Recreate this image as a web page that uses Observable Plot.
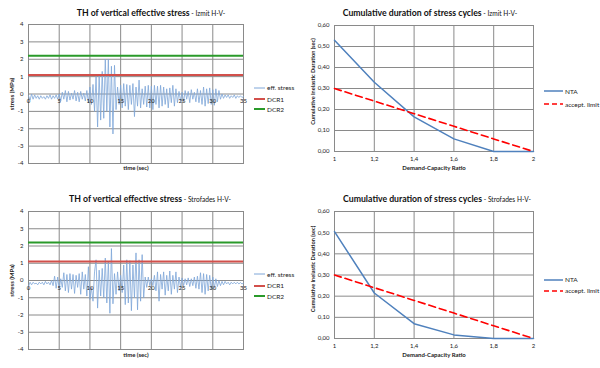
<!DOCTYPE html>
<html><head><meta charset="utf-8">
<script src="https://cdn.jsdelivr.net/npm/d3@7"></script>
<script src="https://cdn.jsdelivr.net/npm/@observablehq/plot@0.6"></script>
<style>
body{margin:0;background:#fff;font-family:Lato,"Open Sans",sans-serif;}
#root{position:relative;width:600px;height:368px;overflow:hidden;background:#fff;}
.panel{position:absolute;}
.title{position:absolute;width:300px;text-align:center;white-space:nowrap;font-size:8.7px;font-weight:700;color:#111;line-height:12px;}
.title span{font-size:6.6px;font-weight:400;}
.leg{position:absolute;display:flex;align-items:center;height:8px;font-size:6.5px;color:#222;white-space:nowrap;}
.leg svg{display:block;margin-right:2px;}
</style>
</head><body>
<div id="root"></div>
<script>
// ---- data ----
const DT = 0.25; // sample interval of stress histories (sec)
const izmitStress = [
  -0.1, -0.35, 0.0, -0.3, -0.05, -0.25, -0.1, -0.3, -0.1, -0.25, -0.15, -0.3, -0.1, -0.25, -0.05, -0.3, -0.1, -0.25, -0.05, -0.3, 0.0,
  -0.4, 0.1, -0.3, 0.2, -0.45, 0.15, -0.35, 0.05, -0.3, 0.2, -0.4, 0.1, -0.45, 0.15, -0.3, 0.05, -0.4, 0.2, -0.5, 0.4,
  -0.6, 0.55, -1.0, 1.0, -1.9, 1.1, -1.5, 1.3, -1.4, 2.0, -1.0, 2.0, -1.9, 1.6, -2.3, 1.65, -0.9, 0.4, -0.6, 0.5,
  -0.8, 0.6, -0.7, 0.55, -0.9, 0.5, -0.6, 0.6, -1.3, 0.4, -0.7, 0.8, -0.8, 0.3, -0.6, 0.45, -0.75, 0.5, -0.8, 0.45,
  -0.9, 0.5, -0.6, 0.45, -0.8, 0.5, -0.7, 0.4, -0.6, 0.3, -0.8, 0.35, -0.5, 0.5, -0.7, 0.3, -0.5, 0.15, -0.4, 0.1,
  -0.45, 0.2, -0.3, 0.15, -0.5, 0.25, -0.3, 0.1, -0.45, 0.3, -0.5, 0.2, -0.6, 0.4, -0.7, 0.3, -0.55, 0.35, -0.6, 0.25,
  -0.65, 0.3, -0.45, 0.2, -0.3, 0.0, -0.25, -0.05, -0.2, -0.05, -0.25, -0.1, -0.2, -0.05, -0.25, -0.1, -0.2, -0.1, -0.2, -0.15
];
const strofadesStress = [
  -0.35, -0.1, -0.25, -0.1, -0.2, -0.15, -0.25, -0.1, -0.2, -0.1, -0.25, -0.05, -0.2, -0.1, -0.25, 0.0, -0.3, 0.25, -0.45, 0.2, -0.5,
  0.1, -0.4, 0.45, -0.6, 0.35, -0.7, 0.4, -0.5, 0.35, -0.75, 0.3, -0.4, 0.4, -0.8, 0.5, -0.5, 0.35, -0.9, 0.8, -1.1,
  -0.4, -1.2, 0.5, 1.2, -1.6, 0.6, -0.9, 0.7, -1.0, 1.3, -1.3, 1.1, -1.9, 1.85, -1.35, 0.4, -0.8, 0.5, -0.6, 0.3,
  -0.7, 0.9, -1.4, 1.2, -1.3, 1.15, -1.75, 0.9, -1.0, 1.6, -1.7, 1.2, -1.2, 1.5, -1.0, 0.2, -0.4, 0.2, -0.3, 0.1,
  -0.3, 0.3, -0.6, 0.5, -1.2, 0.35, -0.5, 0.5, -0.85, 0.3, -0.6, 0.55, -0.8, 0.3, -0.5, 0.5, -0.7, 0.2, -0.4, 0.15,
  -0.3, 0.1, -0.25, 0.15, -0.35, 0.1, -0.3, 0.2, -0.45, 0.25, -0.5, 0.45, -0.7, 0.4, -0.8, 0.35, -0.6, 0.3, -0.5, 0.2,
  -0.45, 0.1, -0.35, 0.0, -0.3, -0.05, -0.25, -0.05, -0.2, -0.1, -0.25, -0.1, -0.2, -0.1, -0.2, -0.1, -0.2, -0.12, -0.2, -0.15
];
const dcr1 = 1.1;
const dcr2 = 2.2;
const timeTicks = [0, 5, 10, 15, 20, 25, 30, 35];
const stressTicks = [-4, -3, -2, -1, 0, 1, 2, 3, 4];

const ratio = [1, 1.2, 1.4, 1.6, 1.8, 2];
const ntaIzmit = [0.53, 0.33, 0.165, 0.06, 0.0, 0.0];
const ntaStrofades = [0.505, 0.215, 0.07, 0.017, 0.0, 0.0];
const acceptLimit = [0.30, 0.24, 0.18, 0.12, 0.06, 0.0];
const durationTicks = [0, 0.1, 0.2, 0.3, 0.4, 0.5, 0.6];

const titles = [
  ["TH of vertical effective stress", " - Izmit H-V-"],
  ["Cumulative duration of stress cycles", " - Izmit H-V-"],
  ["TH of vertical effective stress", " - Strofades H-V-"],
  ["Cumulative duration of stress cycles", " - Strofades H-V-"]
];

// ---- drawing ----
const FONT = "Lato, 'Open Sans', sans-serif";
const GRID = "#8a8a8a";
const comma = (d, n) => d.toFixed(n).replace(".", ",");

function thPanel(values, m, xlabDy, tickDy) {
  const data = values.map((v, i) => ({t: i * DT, v}));
  return Plot.plot({
    width: 300, height: 184,
    marginLeft: m[0], marginRight: m[1], marginTop: m[2], marginBottom: m[3],
    x: {domain: [0, 35], axis: null},
    y: {domain: [-4, 4], axis: null},
    style: {fontFamily: FONT, fontSize: "6px", background: "transparent", overflow: "visible"},
    marks: [
      Plot.gridX(timeTicks, {stroke: GRID, strokeOpacity: 1, strokeWidth: 1}),
      Plot.gridY(stressTicks, {stroke: GRID, strokeOpacity: 1, strokeWidth: 1}),
      Plot.frame({stroke: GRID, strokeWidth: 1}),
      Plot.line(data, {x: "t", y: "v", stroke: "#7ea6d8", strokeWidth: 0.8}),
      Plot.ruleY([dcr1], {stroke: "#d2504b", strokeWidth: 2}),
      Plot.ruleY([dcr2], {stroke: "#2a9a2a", strokeWidth: 2}),
      Plot.text(stressTicks, {y: d => d, frameAnchor: "left", dx: -5, textAnchor: "end", text: d => String(d), fill: "#222"}),
      Plot.text(timeTicks, {x: d => d, y: () => 0, dy: tickDy, text: d => String(d), fill: "#222"}),
      Plot.text(["stress (MPa)"], {text: d => d, frameAnchor: "left", textAnchor: "middle", rotate: -90, dx: -16, fontWeight: "bold", fill: "#222"}),
      Plot.text(["time (sec)"], {text: d => d, frameAnchor: "bottom", textAnchor: "middle", lineAnchor: "middle", dy: xlabDy, fontWeight: "bold", fill: "#222"})
    ]
  });
}

function durPanel(nta, m, xlabDy, tickDy, ylabDy) {
  const ntaData = ratio.map((r, i) => ({r, v: nta[i]}));
  const limData = ratio.map((r, i) => ({r, v: acceptLimit[i]}));
  return Plot.plot({
    width: 300, height: 184,
    marginLeft: m[0], marginRight: m[1], marginTop: m[2], marginBottom: m[3],
    x: {domain: [1, 2], axis: null},
    y: {domain: [0, 0.6], axis: null},
    style: {fontFamily: FONT, fontSize: "6px", background: "transparent", overflow: "visible"},
    marks: [
      Plot.gridX(ratio, {stroke: GRID, strokeOpacity: 1, strokeWidth: 1}),
      Plot.gridY(durationTicks, {stroke: GRID, strokeOpacity: 1, strokeWidth: 1}),
      Plot.frame({stroke: GRID, strokeWidth: 1}),
      Plot.line(ntaData, {x: "r", y: "v", stroke: "#4f81bd", strokeWidth: 1.5}),
      Plot.line(limData, {x: "r", y: "v", stroke: "#ff0000", strokeWidth: 1.6, strokeDasharray: "7,4"}),
      Plot.text(durationTicks, {y: d => d, frameAnchor: "left", dx: -5, textAnchor: "end", text: d => comma(d, 2), fill: "#222"}),
      Plot.text(ratio, {x: d => d, frameAnchor: "bottom", textAnchor: "middle", lineAnchor: "middle", dy: tickDy, text: d => (d === 1 || d === 2) ? String(d) : comma(d, 1), fill: "#222"}),
      Plot.text(["Cumulative Inelastic Duration (sec)"], {text: d => d, frameAnchor: "left", textAnchor: "middle", rotate: -90, dx: -21, dy: ylabDy, fontSize: 5.6, fontWeight: "bold", fill: "#222"}),
      Plot.text(["Demand-Capacity Ratio"], {text: d => d, frameAnchor: "bottom", textAnchor: "middle", lineAnchor: "middle", dy: xlabDy, fontWeight: "bold", fill: "#222"})
    ]
  });
}

const root = document.getElementById("root");
function place(el, x, y) {
  const d = document.createElement("div");
  d.className = "panel";
  d.style.left = x + "px"; d.style.top = y + "px";
  d.appendChild(el);
  root.appendChild(d);
}
place(thPanel(izmitStress, [28, 57, 24, 21], 5, 7.5), 0, 0);
place(durPanel(ntaIzmit, [34, 67, 25, 33], 16.5, 7.5, -7), 300, 0);
place(thPanel(strofadesStress, [28, 57, 27, 19], 5.5, 8), 0, 184);
place(durPanel(ntaStrofades, [34, 67, 27, 30], 16.3, 8, -6), 300, 184);

// titles
const titlePos = [[151, 12.5], [430, 12.7], [150, 198.7], [437, 199]];
titles.forEach(([main, sub], i) => {
  const d = document.createElement("div");
  d.className = "title";
  d.style.left = (titlePos[i][0] - 150) + "px";
  d.style.top = (titlePos[i][1] - 6) + "px";
  d.textContent = main;
  const s = document.createElement("span");
  s.textContent = sub;
  d.appendChild(s);
  root.appendChild(d);
});

// legends
function legendItem(x, y, len, label, color, width, dash) {
  const d = document.createElement("div");
  d.className = "leg";
  d.style.left = x + "px"; d.style.top = (y - 4) + "px";
  const svg = d3.create("svg").attr("width", len).attr("height", 8);
  svg.append("line").attr("x1", 0).attr("x2", len).attr("y1", 4).attr("y2", 4)
    .attr("stroke", color).attr("stroke-width", width).attr("stroke-dasharray", dash || null);
  d.appendChild(svg.node());
  const s = document.createElement("span");
  s.textContent = label;
  d.appendChild(s);
  root.appendChild(d);
}
[[87.7, 99, 109], [274, 285.7, 296]].forEach(([a, b, c]) => {
  legendItem(254, a, 11, "eff. stress", "#7ea6d8", 1);
  legendItem(254, b, 11, "DCR1", "#d2504b", 2);
  legendItem(254, c, 11, "DCR2", "#2a9a2a", 2);
});
[[91, 104.3], [279.7, 290.7]].forEach(([a, b]) => {
  legendItem(544, a, 19, "NTA", "#4f81bd", 1.5);
  legendItem(544, b, 19, "accept. limit", "#ff0000", 1.6, "5,3");
});
</script>
</body></html>
